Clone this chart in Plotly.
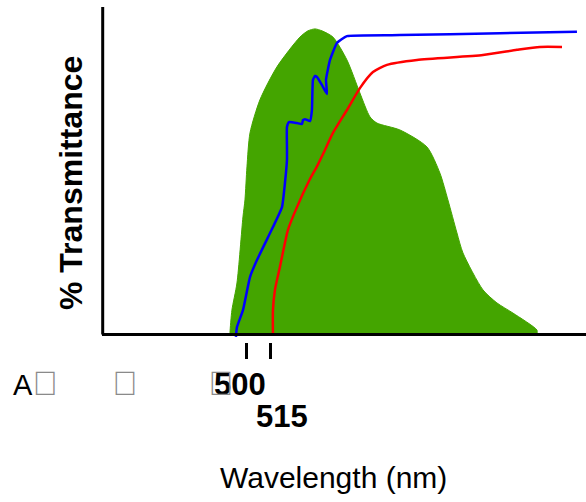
import plotly.graph_objects as go

# Wavelength (nm) and % transmittance
green_x = [489.4, 489.4, 490.6, 493.75, 497.5, 498.75, 500.0, 501.9, 508.1, 518.75, 533.1, 538.1,
           542.5, 546.9, 553.75, 562.5, 570.6, 576.9, 581.25, 595.6, 612.5, 620.6, 625.6, 631.25,
           635.0, 647.5, 656.25, 666.25, 681.25, 681.25]
green_y = [0.0, 0.6, 7.3, 15.6, 35.8, 41.0, 51.1, 61.5, 71.6, 81.7, 90.8, 92.7,
           93.3, 92.7, 90.8, 83.8, 73.7, 66.4, 64.5, 62.4, 57.2, 49.2, 41.0, 30.9,
           24.8, 13.5, 9.5, 6.4, 1.2, 0.0]

blue_x = [493.1, 493.75, 497.5, 501.9, 506.25, 516.25, 521.9, 523.75, 525.0, 525.0, 525.0, 526.25,
          531.25, 534.4, 535.0, 536.25, 539.4, 540.6, 541.25, 542.5, 543.75, 546.9, 550.0, 549.4,
          551.9, 556.25, 562.5, 595.6, 658.1, 706.25]
blue_y = [-0.9, 2.1, 7.3, 17.4, 22.6, 32.7, 38.8, 46.2, 53.2, 57.2, 63.3, 64.8,
          64.5, 64.2, 65.4, 65.7, 65.1, 68.5, 77.7, 78.9, 78.6, 76.1, 73.4, 77.7,
          83.8, 89.0, 91.1, 91.4, 92.0, 92.4]

red_x = [516.25, 516.25, 517.5, 520.6, 525.6, 531.25, 539.0, 544.0, 548.0, 553.75, 562.5, 570.6,
         578.75, 587.5, 606.25, 647.5, 668.75, 683.1, 696.9]
red_y = [-0.3, 7.3, 13.5, 20.5, 31.8, 38.8, 47.0, 51.5, 55.5, 61.5, 68.5, 75.2,
         80.1, 82.3, 83.8, 85.3, 86.9, 87.8, 87.8]

tick_vals = [500, 515]
tick_labels = ["500", "515"]
# labels whose glyphs are not available in any font (rendered as empty boxes)
legend_labels = ["A", "\ue000", "\ue001", "\ue002"]

FONT = "Liberation Sans, Arial, Helvetica, sans-serif"

W, H = 586, 502
ML, MT, MB = 102, 7, 160
PW, PH = W - ML, H - MT - MB


def px(xp):
    return (xp - ML) / PW


def py(yp):
    return (H - MB - yp) / PH


fig = go.Figure()
fig.add_trace(go.Scatter(x=green_x, y=green_y, mode="lines", fill="tozeroy",
                         fillcolor="#44a500", line=dict(color="#44a500", width=1, shape="spline", smoothing=0.7),
                         hoverinfo="skip", showlegend=False))
fig.add_trace(go.Scatter(x=blue_x, y=blue_y, mode="lines",
                         line=dict(color="#0000ff", width=2.5, shape="spline", smoothing=0.4),
                         showlegend=False))
fig.add_trace(go.Scatter(x=red_x, y=red_y, mode="lines",
                         line=dict(color="#ff0000", width=2.5, shape="spline", smoothing=0.6),
                         showlegend=False))

fig.update_layout(
    width=W, height=H,
    margin=dict(l=ML, r=0, t=MT, b=MB),
    paper_bgcolor="white", plot_bgcolor="white",
    font=dict(family=FONT, color="black"),
    xaxis=dict(range=[409.4, 711.9], tickvals=tick_vals, ticks="outside", ticklen=16, tickwidth=2.5,
               tickcolor="black", showticklabels=False, showgrid=False, zeroline=False, showline=False),
    yaxis=dict(range=[-2.446, 100], visible=False, showgrid=False, zeroline=False),
)

# axis lines
y0p = py(334.5)
fig.add_shape(type="line", xref="paper", yref="paper", x0=0, x1=1, y0=y0p, y1=y0p,
              line=dict(color="black", width=3))
fig.add_shape(type="line", xref="paper", yref="paper", x0=px(102.7), x1=px(102.7), y0=y0p, y1=1,
              line=dict(color="black", width=3))

# tick labels
fig.add_annotation(x=tick_vals[0], y=py(385), xref="x", yref="paper", text="<b>%s</b>" % tick_labels[0],
                   showarrow=False, xshift=-7, xanchor="center", yanchor="middle",
                   font=dict(size=31, family=FONT, color="black"))
fig.add_annotation(x=tick_vals[1], y=py(416), xref="x", yref="paper", text="<b>%s</b>" % tick_labels[1],
                   showarrow=False, xshift=11, xanchor="center", yanchor="middle",
                   font=dict(size=31, family=FONT, color="black"))

gray = '<span style="color:#8a8a8a;font-size:34px">%s</span>'
fig.add_annotation(x=px(11), y=py(383), xref="paper", yref="paper", xanchor="left", yanchor="middle",
                   text=legend_labels[0] + gray % legend_labels[1], showarrow=False,
                   font=dict(size=29, family=FONT, color="black"))
fig.add_annotation(x=px(110), y=py(383), xref="paper", yref="paper", xanchor="left", yanchor="middle",
                   text=gray % legend_labels[2], showarrow=False, font=dict(size=29, family=FONT, color="black"))
fig.add_annotation(x=px(206), y=py(383), xref="paper", yref="paper", xanchor="left", yanchor="middle",
                   text=gray % legend_labels[3], showarrow=False, font=dict(size=29, family=FONT, color="black"))

# axis titles
fig.add_annotation(x=px(333), y=py(477), xref="paper", yref="paper", xanchor="center", yanchor="middle",
                   text="Wavelength (nm)", showarrow=False, font=dict(size=30, family=FONT, color="black"))
fig.add_annotation(x=px(71), y=py(183), xref="paper", yref="paper", xanchor="center", yanchor="middle",
                   textangle=-90, text="<b>% Transmittance</b>", showarrow=False,
                   font=dict(size=32, family=FONT, color="black"))

fig.write_html("out.html", config={"displayModeBar": False},
               post_script="document.body.style.margin='0';")
